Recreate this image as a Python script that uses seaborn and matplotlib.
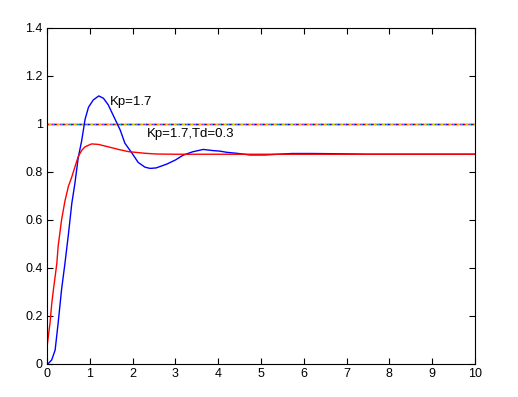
import numpy as np
import pandas as pd
import matplotlib
matplotlib.use("Agg")
import matplotlib.pyplot as plt
import seaborn as sns

# Kp = 1.7 (blue)
t_p = [0.0, 0.02, 0.11, 0.19, 0.26, 0.34, 0.42, 0.50, 0.58, 0.65, 0.73, 0.81, 0.89,
       0.97, 1.08, 1.21, 1.32, 1.43, 1.59, 1.71, 1.82, 1.98, 2.13, 2.29, 2.41, 2.55,
       2.80, 3.00, 3.18, 3.40, 3.65, 3.89, 4.04, 4.20, 4.43, 4.74, 5.09, 5.40, 5.72,
       6.20, 6.80, 7.50, 8.50, 10.0]
y_p = [0.0, 0.0, 0.017, 0.058, 0.17, 0.31, 0.42, 0.54, 0.67, 0.75, 0.86, 0.93, 1.02,
       1.07, 1.10, 1.117, 1.107, 1.08, 1.02, 0.975, 0.92, 0.88, 0.84, 0.82, 0.815, 0.817,
       0.833, 0.850, 0.870, 0.884, 0.894, 0.889, 0.887, 0.882, 0.878, 0.871, 0.871, 0.874, 0.877,
       0.877, 0.876, 0.874, 0.874, 0.874]

# Kp = 1.7, Td = 0.3 (red)
t_pd = [0.0, 0.0, 0.03, 0.07, 0.11, 0.15, 0.19, 0.23, 0.26, 0.30, 0.34, 0.38, 0.42,
        0.50, 0.58, 0.65, 0.73, 0.81, 0.89, 1.04, 1.20, 1.43, 1.67, 1.90, 2.29, 2.55,
        3.00, 4.00, 6.00, 8.00, 10.0]
y_pd = [0.0, 0.07, 0.114, 0.17, 0.25, 0.31, 0.364, 0.42, 0.49, 0.545, 0.60, 0.64, 0.68,
        0.74, 0.78, 0.82, 0.864, 0.89, 0.905, 0.917, 0.915, 0.905, 0.894, 0.885, 0.878, 0.875,
        0.874, 0.874, 0.874, 0.874, 0.874]

# set-point reference
t_ref = [0.0, 10.0]
y_ref = [1.0, 1.0]
ref_colors = ["#00aa00", "#ff0000", "#0000ff", "#00cccc", "#cc00cc", "#cccc00"]

labels = ["Kp=1.7", "Kp=1.7,Td=0.3"]

sns.set_style("ticks")
plt.rcParams['font.family'] = ['Liberation Sans', 'DejaVu Sans']
plt.rcParams['text.color'] = 'black'

fig = plt.figure(figsize=(5.18, 3.97), dpi=100)
ax = fig.add_axes([47/518, 33/397, 428/518, 336/397])

df_p = pd.DataFrame({"t": t_p, "y": y_p})
df_pd = pd.DataFrame({"t": t_pd, "y": y_pd})
df_ref = pd.DataFrame({"t": t_ref, "y": y_ref})

for i, c in enumerate(ref_colors):
    sns.lineplot(data=df_ref, x="t", y="y", ax=ax, color=c, lw=1.0,
                 linestyle=(i * 1.0, (2, 4)), sort=False, estimator=None)
sns.lineplot(data=df_p, x="t", y="y", ax=ax, color="#0000ff", lw=1.0,
             sort=False, estimator=None)
sns.lineplot(data=df_pd, x="t", y="y", ax=ax, color="#ff0000", lw=1.0,
             sort=False, estimator=None)

ax.text(1.47, 1.093, labels[0], fontsize=9.5, va="center", ha="left", color="black")
ax.text(2.33, 0.96, labels[1], fontsize=9.5, va="center", ha="left", color="black")

ax.set_xlim(0, 10)
ax.set_ylim(0, 1.4)
ax.set_xticks(np.arange(0, 11, 1))
ax.set_yticks(np.arange(0, 1.41, 0.2))
ax.set_xticklabels([str(i) for i in range(11)])
ax.set_yticklabels(["0", "0.2", "0.4", "0.6", "0.8", "1", "1.2", "1.4"])
ax.set_xlabel("")
ax.set_ylabel("")
for s in ax.spines.values():
    s.set_visible(True)
    s.set_linewidth(0.8)
    s.set_color("black")
ax.tick_params(direction="in", length=4, width=0.8, labelsize=9, colors="black",
               labelcolor="black", top=True, right=True, pad=3)
ax.grid(False)

fig.savefig("out.png", dpi=100, facecolor="white")
